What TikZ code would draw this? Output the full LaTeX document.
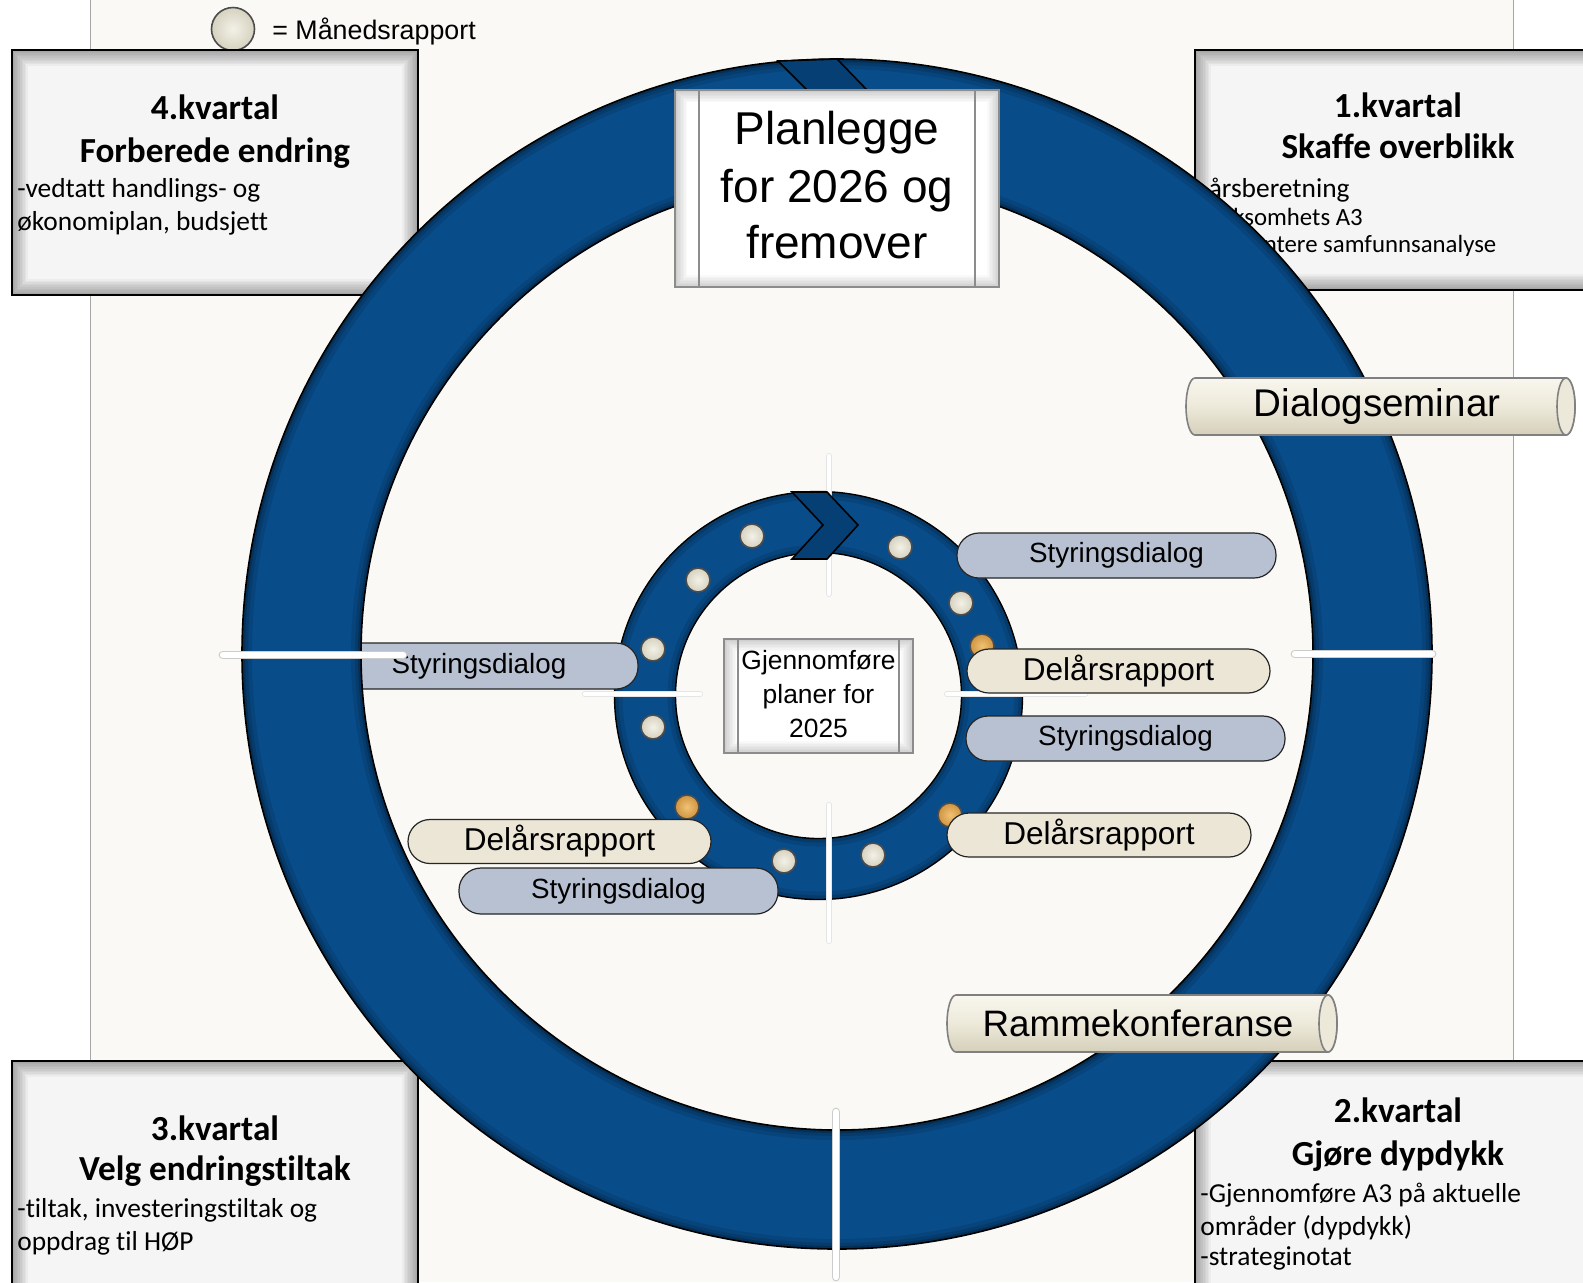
\documentclass[tikz,border=0pt]{standalone}
\usepackage{fontspec}
\setmainfont{Liberation Sans}
\newfontfamily\calfont[Ligatures=CommonOff]{Carlito}
\definecolor{ringblue}{HTML}{084C8A}
\definecolor{chevblue}{HTML}{063F74}
\definecolor{creambg}{HTML}{FAF9F5}
\definecolor{pillblue}{HTML}{B8C1D1}
\definecolor{pillcream}{HTML}{ECE6D7}
\definecolor{boxfill}{HTML}{F5F5F5}
\definecolor{dotin}{HTML}{F3F1E7}
\definecolor{dotout}{HTML}{D6D2C0}
\definecolor{orin}{HTML}{F0C274}
\definecolor{orout}{HTML}{CF9440}
\definecolor{cylTop}{HTML}{F8F6EE}
\definecolor{cylMid}{HTML}{EDE9DA}
\definecolor{cylBot}{HTML}{D5CFBA}
\begin{document}
\begin{tikzpicture}[x=0.5pt,y=-0.5pt,
  qbox/.style={draw=black, line width=1.4pt, fill=boxfill, inner sep=0pt,
    path picture={
      \foreach \i in {1,...,10}{
        \draw[line width=1.6*\i pt, draw=black, draw opacity=0.035]
          (path picture bounding box.south west) rectangle (path picture bounding box.north east);}
    }},
  planbox/.style={draw=black!45, line width=1.2pt, fill=white, inner sep=0pt,
    path picture={
      \foreach \i in {1,...,8}{
        \draw[line width=1.5*\i pt, draw=black, draw opacity=0.022]
          (path picture bounding box.south west) rectangle (path picture bounding box.north east);}
    }},
  qtitle/.style={anchor=base, inner sep=0pt, font=\calfont\bfseries\fontsize{17.6}{21}\selectfont},
  qbody/.style={anchor=base west, inner sep=0pt, font=\calfont\fontsize{13.7}{16}\selectfont},
  qsmall/.style={anchor=base west, inner sep=0pt, font=\calfont\fontsize{12.4}{15}\selectfont},
  plantxt/.style={anchor=base, inner sep=0pt, font=\fontsize{23}{28}\selectfont},
  gjtxt/.style={anchor=base, inner sep=0pt, font=\fontsize{13.2}{16}\selectfont},
  dot/.style={circle, draw=black!70, line width=0.8pt, minimum size=12pt, inner sep=0pt, inner color=dotin, outer color=dotout},
  odot/.style={circle, draw=black!70, line width=0.8pt, minimum size=12pt, inner sep=0pt, inner color=orin, outer color=orout},
  pillB/.style={draw=black!85, line width=0.6pt, fill=pillblue, rounded corners=11pt, minimum height=22.5pt, inner sep=0pt, font=\fontsize{13.9}{16}\selectfont},
  pillC/.style={draw=black!85, line width=0.6pt, fill=pillcream, rounded corners=11pt, minimum height=22pt, inner sep=0pt, font=\fontsize{15.8}{18}\selectfont},
  cyl/.style={draw=black!50, line width=0.8pt, top color=cylTop, bottom color=cylBot, middle color=cylMid},
  tickO/.style={line cap=round, draw=black!20, line width=4.4pt, postaction={draw=white, line width=3.2pt}},
  tickI/.style={line cap=round, draw=black!10, line width=3pt, postaction={draw=white, line width=2.2pt}}
]
\useasboundingbox (0,0) rectangle (1583,1282);
% background
\fill[white] (0,0) rectangle (1583,1282);
\fill[creambg] (90,0) rectangle (1513,1282);
\draw[black!35, line width=0.4pt] (90,0) -- (90,1282);
\draw[black!35, line width=0.4pt] (1513,0) -- (1513,1282);

% legend
\node[dot, minimum size=21.5pt] (leg) at (233,29) {};
\node[anchor=base west, inner sep=0pt, font=\fontsize{13.4}{16}\selectfont] (legt) at (272,39) {= Månedsrapport};

% quarter boxes
\node[qbox, minimum width=203pt, minimum height=122.5pt] (q4) at (215,172.5) {};
\node[qtitle] (q4a) at (215,119) {4.kvartal};
\node[qtitle] (q4b) at (215,162) {Forberede endring};
\node[qbody] (q4c) at (17,197) {-vedtatt handlings- og};
\node[qbody] (q4d) at (17,230) {økonomiplan, budsjett};

\node[qbox, minimum width=203pt, minimum height=120pt] (q1) at (1398,170) {};
\node[qtitle] (q1a) at (1398,117) {1.kvartal};
\node[qtitle] (q1b) at (1398,158) {Skaffe overblikk};
\node[qbody] (q1c) at (1200,197) {-årsberetning};
\node[qsmall] (q1d) at (1200,225) {-virksomhets A3};
\node[qsmall] (q1e) at (1200,252) {-presentere samfunnsanalyse};

\node[qbox, minimum width=203pt, minimum height=121pt] (q3) at (215,1182) {};
\node[qtitle] (q3a) at (215,1140) {3.kvartal};
\node[qtitle] (q3b) at (215,1180) {Velg endringstiltak};
\node[qbody] (q3c) at (17,1217) {-tiltak, investeringstiltak og};
\node[qbody] (q3d) at (17,1250) {oppdrag til HØP};

\node[qbox, minimum width=203pt, minimum height=121pt] (q2) at (1398,1182) {};
\node[qtitle] (q2a) at (1398,1122) {2.kvartal};
\node[qtitle] (q2b) at (1398,1165) {Gjøre dypdykk};
\node[qbody] (q2c) at (1200,1202) {-Gjennomføre A3 på aktuelle};
\node[qbody] (q2d) at (1200,1235) {områder (dypdykk)};
\node[qbody] (q2e) at (1200,1265) {-strateginotat};

% inner ring
\fill[ringblue, even odd rule] (818.5,695.5) circle[radius=102pt] (818.5,695.5) circle[radius=71.5pt];
\draw[black, opacity=0.10, line width=4pt] (818.5,695.5) circle[radius=100pt];
\draw[black, opacity=0.14, line width=2pt] (818.5,695.5) circle[radius=101pt];
\draw[black, opacity=0.10, line width=4pt] (818.5,695.5) circle[radius=73.5pt];
\draw[black, opacity=0.14, line width=2pt] (818.5,695.5) circle[radius=72.5pt];
\draw[black, line width=0.7pt] (818.5,695.5) circle[radius=102pt];
\draw[black, line width=0.7pt] (818.5,695.5) circle[radius=71.5pt];
% inner ticks
\draw[tickI] (829,456) -- (829,594);
\draw[tickI] (585,694) -- (700,694);
\draw[tickI] (947,694) -- (1085,694);
\draw[tickI] (829,805) -- (829,941);
% inner chevron
\filldraw[fill=chevblue, draw=black, line width=0.8pt] (792,492) -- (823,525) -- (792,559) -- (827,559) -- (858,525) -- (827,492) -- cycle;
% dots
\node[dot] (d1) at (752,536) {};
\node[dot] (d2) at (698,580) {};
\node[dot] (d3) at (653,649) {};
\node[dot] (d4) at (653,727) {};
\node[odot] (d5) at (687,807) {};
\node[dot] (d6) at (784,861) {};
\node[dot] (d7) at (873,855) {};
\node[odot] (d8) at (950,815) {};
\node[odot] (d9) at (982,646) {};
\node[dot] (d10) at (961,603) {};
\node[dot] (d11) at (900,547) {};

% pills
\node[pillB, minimum width=159.5pt] (p1) at (1116.5,555.5) {Styringsdialog};
\node[pillC, minimum width=151.5pt] (p2) at (1118.5,671) {Delårsrapport};
\node[pillB, minimum width=159.5pt] (p3) at (1125.5,738.5) {Styringsdialog};
\node[pillC, minimum width=152pt] (p4) at (1099,835) {Delårsrapport};
\node[pillB, minimum width=159pt, minimum height=23pt] (p5) at (479,666) {Styringsdialog};
\node[pillC, minimum width=151.5pt] (p6) at (559.5,841.5) {Delårsrapport};
\node[pillB, minimum width=159.5pt, minimum height=23pt] (p7) at (618.5,891) {Styringsdialog};

% outer ring
\fill[ringblue, even odd rule] (837,654) circle[radius=297.5pt] (837,654) circle[radius=238pt];
\draw[black, opacity=0.10, line width=5pt] (837,654) circle[radius=295pt];
\draw[black, opacity=0.12, line width=3pt] (837,654) circle[radius=296pt];
\draw[black, opacity=0.18, line width=1.5pt] (837,654) circle[radius=296.75pt];
\draw[black, opacity=0.10, line width=5pt] (837,654) circle[radius=240.5pt];
\draw[black, opacity=0.12, line width=3pt] (837,654) circle[radius=239.5pt];
\draw[black, opacity=0.18, line width=1.5pt] (837,654) circle[radius=238.75pt];
\draw[black, line width=0.8pt] (837,654) circle[radius=297.5pt];
\draw[black, line width=0.8pt] (837,654) circle[radius=238pt];
% outer chevron
\filldraw[fill=chevblue, draw=black, line width=0.8pt] (778,61) -- (838,121) -- (778,181) -- (837,181) -- (897,121) -- (837,59) -- cycle;
% outer ticks
\draw[tickO] (223,655) -- (403,655);
\draw[tickO] (1295,654) -- (1432,654);
\draw[tickO] (836,1112) -- (836,1277);

% Planlegge box
\node[planbox, minimum width=162pt, minimum height=98.5pt] (plan) at (837,188.5) {};
\draw[black!45, line width=1pt] (699,90) -- (699,287);
\draw[black!45, line width=1pt] (975,90) -- (975,287);
\node[plantxt] (pl1) at (837,144) {Planlegge};
\node[plantxt] (pl2) at (837,202) {for 2026 og};
\node[plantxt] (pl3) at (837,258.5) {fremover};

% Gjennomføre box
\node[planbox, minimum width=94.5pt, minimum height=57pt] (gj) at (818.5,696) {};
\draw[black!45, line width=0.8pt] (738,639) -- (738,753);
\draw[black!45, line width=0.8pt] (899,639) -- (899,753);
\node[gjtxt] (gj1) at (818.5,669) {Gjennomføre};
\node[gjtxt] (gj2) at (818.5,703) {planer for};
\node[gjtxt] (gj3) at (818.5,737) {2025};

% cylinders
\path[cyl] (1195,378) -- (1566,378) arc[start angle=90,end angle=-90,x radius=4.5pt,y radius=14.25pt] -- (1195,435) arc[start angle=270,end angle=90,x radius=4.5pt,y radius=14.25pt] -- cycle;
\draw[black!50, line width=0.8pt, fill=cylMid] (1566,406.5) ellipse[x radius=4.5pt, y radius=14.25pt];
\node[inner sep=0pt, font=\fontsize{19.3}{22}\selectfont] (dia) at (1377,406.5) {Dialogseminar};

\path[cyl] (956,995) -- (1328,995) arc[start angle=90,end angle=-90,x radius=4.5pt,y radius=14.25pt] -- (956,1052) arc[start angle=270,end angle=90,x radius=4.5pt,y radius=14.25pt] -- cycle;
\draw[black!50, line width=0.8pt, fill=cylMid] (1328,1023.5) ellipse[x radius=4.5pt, y radius=14.25pt];
\node[inner sep=0pt, font=\fontsize{18.4}{22}\selectfont] (ramme) at (1138,1023.5) {Rammekonferanse};
\end{tikzpicture}
\end{document}
